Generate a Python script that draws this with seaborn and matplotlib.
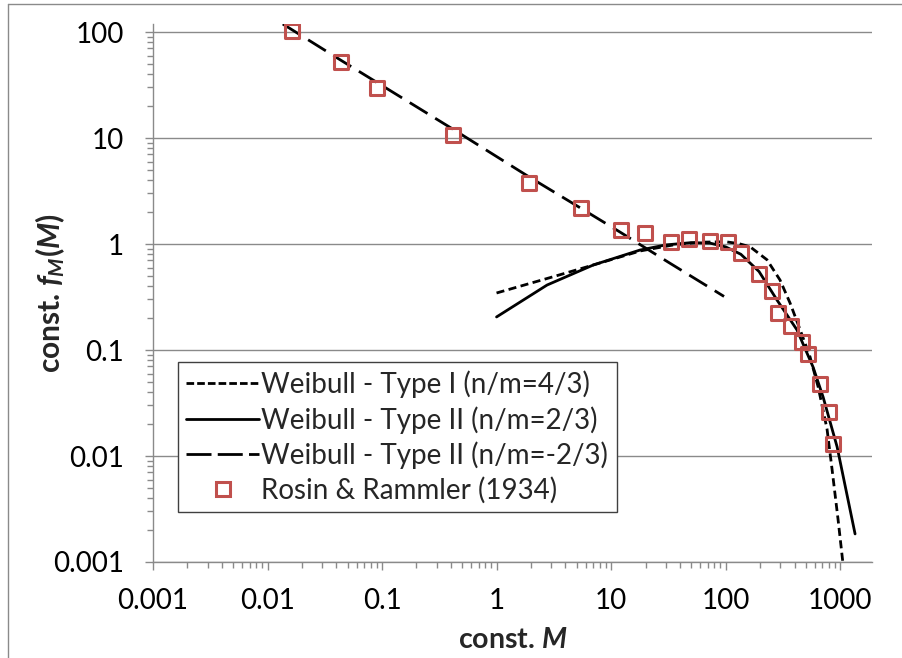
import numpy as np
import pandas as pd
import matplotlib
matplotlib.use("Agg")
import matplotlib.pyplot as plt
from matplotlib.lines import Line2D
from matplotlib.ticker import LogLocator, FixedLocator, FixedFormatter, NullFormatter
import seaborn as sns

# ---------------- data ----------------
x_ticks = [0.001, 0.01, 0.1, 1, 10, 100, 1000]
x_tick_labels = ["0.001", "0.01", "0.1", "1", "10", "100", "1000"]
y_ticks = [0.001, 0.01, 0.1, 1, 10, 100]
y_tick_labels = ["0.001", "0.01", "0.1", "1", "10", "100"]

# Weibull - Type I (n/m=4/3)  (short dashes)
w1_M = [1, 3.1, 6.2, 18, 35, 60, 100, 130, 164, 230, 299, 366, 448, 547, 643, 769, 851, 961, 1062]
w1_f = [0.345, 0.49, 0.61, 0.86, 0.98, 1.04, 1.05, 1.01, 0.94, 0.71, 0.457, 0.277, 0.155, 0.086,
        0.045, 0.018, 0.0075, 0.0025, 0.00095]

# Weibull - Type II (n/m=2/3)  (solid)
w2_M = [1, 2.76, 7, 17.9, 30, 50, 73, 100, 136, 196, 282, 420, 581, 711, 942, 1352]
w2_f = [0.205, 0.41, 0.634, 0.877, 0.98, 1.03, 1.02, 0.94, 0.80, 0.55, 0.295, 0.155, 0.069,
        0.036, 0.0122, 0.00184]

# Weibull - Type II (n/m=-2/3)  (long dashes)
w3_M = [0.0136, 0.0439, 0.417, 1.92, 5.47, 12.2, 31.5, 97]
w3_f = [119, 54, 12.1, 4.3, 2.17, 1.28, 0.675, 0.32]

# Rosin & Rammler (1934)
rr_M = [0.0164, 0.0439, 0.0903, 0.417, 1.92, 5.47, 12.2, 19.8, 33.4, 48, 73, 105, 136, 196,
        255, 288, 373, 466, 526, 668, 802, 869]
rr_f = [103, 52, 29.7, 10.7, 3.76, 2.19, 1.36, 1.27, 1.04, 1.11, 1.07, 1.04, 0.82, 0.52,
        0.36, 0.223, 0.168, 0.119, 0.092, 0.0478, 0.026, 0.013]

labels = ["Weibull - Type I (n/m=4/3)", "Weibull - Type II (n/m=2/3)",
          "Weibull - Type II (n/m=-2/3)", "Rosin & Rammler (1934)"]

# ---------------- style ----------------
sns.set_theme(style="white")
plt.rcParams["font.family"] = ["Lato", "DejaVu Sans"]
plt.rcParams["mathtext.fontset"] = "custom"
plt.rcParams["mathtext.it"] = "Lato:italic:bold"
plt.rcParams["mathtext.rm"] = "Lato:bold"
plt.rcParams["mathtext.bf"] = "Lato:bold"
plt.rcParams["lines.scale_dashes"] = False

W, H = 902, 658
fig = plt.figure(figsize=(W / 100, H / 100), dpi=100)
fig.patch.set_facecolor("white")
ax = fig.add_axes([153 / W, (H - 562) / H, (872 - 153) / W, (562 - 24) / H])

grid_col = "#8a8a8a"
marker_col = "#C0504D"
lw = 2.0
ls_short = (0, (5.8, 3.2))
ls_long = (0, (15, 6.5))

sns.lineplot(x=w1_M, y=w1_f, ax=ax, color="black", lw=lw, linestyle=ls_short,
             sort=False, estimator=None, legend=False)
sns.lineplot(x=w2_M, y=w2_f, ax=ax, color="black", lw=lw, linestyle="-",
             sort=False, estimator=None, legend=False)
sns.lineplot(x=w3_M, y=w3_f, ax=ax, color="black", lw=lw, linestyle=ls_long,
             sort=False, estimator=None, legend=False)
sns.scatterplot(x=rr_M, y=rr_f, ax=ax, marker="s", s=105, color=marker_col,
                facecolor="none", edgecolor=marker_col, linewidth=2.2, zorder=5, legend=False)

ax.set_xscale("log")
ax.set_yscale("log")
ax.set_xlim(0.001, 1900)
ax.set_ylim(0.001, 119)

ax.xaxis.set_major_locator(FixedLocator(x_ticks))
ax.xaxis.set_major_formatter(FixedFormatter(x_tick_labels))
ax.yaxis.set_major_locator(FixedLocator(y_ticks))
ax.yaxis.set_major_formatter(FixedFormatter(y_tick_labels))
ax.xaxis.set_minor_locator(LogLocator(base=10, subs=np.arange(2, 10), numticks=20))
ax.yaxis.set_minor_locator(LogLocator(base=10, subs=np.arange(2, 10), numticks=20))
ax.xaxis.set_minor_formatter(NullFormatter())
ax.yaxis.set_minor_formatter(NullFormatter())

ax.tick_params(axis="both", which="major", direction="out", length=6, width=1,
               color=grid_col, labelsize=20, pad=15, labelcolor="black")
ax.tick_params(axis="x", which="major", pad=13)
ax.tick_params(axis="both", which="minor", direction="out", length=4, width=1, color=grid_col)
ax.tick_params(axis="x", which="both", bottom=True)
ax.tick_params(axis="y", which="both", left=True)

ax.yaxis.grid(True, which="major", color=grid_col, lw=1)
ax.xaxis.grid(False)
for s in ["top", "right"]:
    ax.spines[s].set_visible(False)
for s in ["left", "bottom"]:
    ax.spines[s].set_color(grid_col)
    ax.spines[s].set_linewidth(1)

ax.set_xlabel(r"const. $M$", fontsize=20.5, fontweight="bold", labelpad=9)
ax.set_ylabel(r"const. $f_M(M)$", fontsize=21.5, fontweight="bold")
ax.yaxis.set_label_coords(-0.119, 0.5)

handles = [
    Line2D([], [], color="black", lw=lw, linestyle=(0, (5.5, 2.2))),
    Line2D([], [], color="black", lw=lw, linestyle="-"),
    Line2D([], [], color="black", lw=lw, linestyle=(0, (18, 4.5))),
    Line2D([], [], color=marker_col, marker="s", markersize=10, markerfacecolor="none",
           markeredgewidth=2.2, linestyle="none"),
]
leg = ax.legend(handles, labels, loc="lower left", bbox_to_anchor=(0.035, 0.093),
                fontsize=20, frameon=True, fancybox=False, shadow=False,
                edgecolor="#404040", framealpha=1, handlelength=2.6, handletextpad=0.1,
                labelspacing=0.28, borderpad=0.3, borderaxespad=0)
leg.get_frame().set_linewidth(1.0)

# outer chart border (left and top visible)
fig.add_artist(Line2D([8 / W, 8 / W], [0, 1 - 4 / H], transform=fig.transFigure,
                      color=grid_col, lw=1))
fig.add_artist(Line2D([8 / W, 1], [1 - 4 / H, 1 - 4 / H], transform=fig.transFigure,
                      color=grid_col, lw=1))

fig.savefig("out.png", dpi=100)
